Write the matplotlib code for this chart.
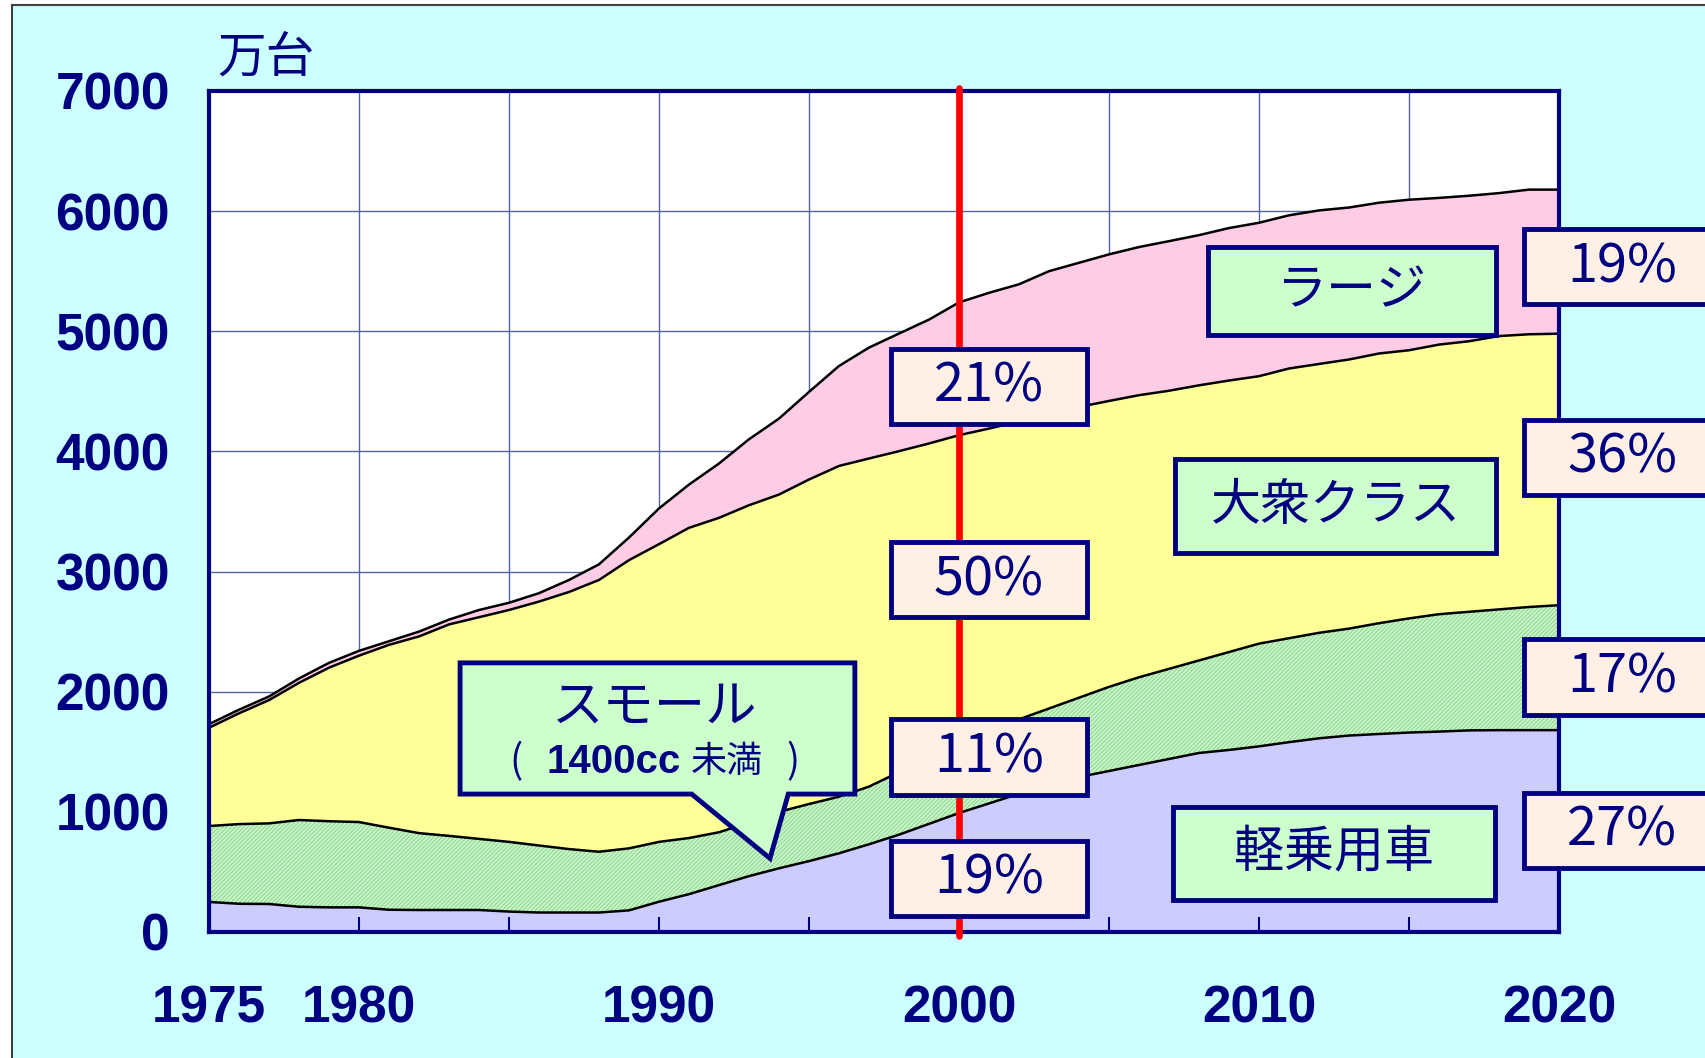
import numpy as np
import matplotlib
matplotlib.use('Agg')
import matplotlib.pyplot as plt
from matplotlib.patches import Rectangle, Polygon

# --- data (万台) ---
years = np.arange(1975, 2021)
kei = [250, 235, 233, 210, 205, 205, 185, 183, 183, 183,
       170, 162, 162, 162, 180, 252, 315, 390, 465, 530,
       590, 655, 730, 810, 900, 990, 1070, 1150, 1220, 1290,
       1340, 1390, 1440, 1490, 1515, 1545, 1580, 1612, 1635, 1648,
       1660, 1668, 1678, 1680, 1680, 1680]
small = [632, 663, 671, 722, 717, 710, 683, 640, 617, 592,
         580, 558, 528, 506, 516, 498, 467, 440, 445, 470,
         475, 471, 480, 520, 540, 570, 600, 620, 640, 660,
         700, 730, 750, 770, 815, 855, 865, 878, 890, 922,
         950, 977, 987, 1005, 1025, 1040]
taishu = [818, 922, 1026, 1142, 1278, 1385, 1522, 1637, 1760, 1845,
          1930, 2030, 2140, 2262, 2399, 2478, 2582, 2617, 2642, 2641,
          2701, 2753, 2731, 2672, 2626, 2575, 2520, 2480, 2440, 2420,
          2380, 2348, 2315, 2290, 2260, 2226, 2245, 2238, 2240, 2245,
          2232, 2244, 2252, 2275, 2270, 2260]
large = [30, 30, 30, 36, 40, 40, 30, 40, 40, 60,
         60, 70, 100, 130, 188, 297, 360, 452, 549, 632,
         729, 832, 923, 979, 1031, 1105, 1130, 1141, 1200, 1200,
         1220, 1233, 1245, 1250, 1269, 1277, 1275, 1278, 1265, 1255,
         1253, 1221, 1211, 1190, 1204, 1199]

class_names = ['軽乗用車', 'スモール', '大衆クラス', 'ラージ']
share_2000 = ['19%', '11%', '50%', '21%']
share_2020 = ['27%', '17%', '36%', '19%']
unit_label = '万台'

y_ticks = [0, 1000, 2000, 3000, 4000, 5000, 6000, 7000]
x_ticks = [1975, 1980, 1985, 1990, 1995, 2000, 2005, 2010, 2015, 2020]
x_labels = ['1975', '1980', '', '1990', '', '2000', '', '2010', '', '2020']

NAVY = '#000080'
fill_colors = ['#ccccff', '#cdf5cd', '#ffff99', '#ffcce5']

plt.rcParams['font.family'] = ['Noto Sans CJK JP', 'DejaVu Sans']
plt.rcParams['hatch.linewidth'] = 0.7

fig = plt.figure(figsize=(17.06, 10.58), dpi=100, facecolor='white')
fig.patches.append(Rectangle((12 / 1706, -0.01), 1.0, 1.01 - 5 / 1058,
                             transform=fig.transFigure, facecolor='#ccffff',
                             edgecolor='#404040', lw=1.5, zorder=-10))

ax = fig.add_axes([0.1225, 0.1191, 0.7913, 0.7949])
ax.set_facecolor('white')
ax.set_xlim(1975, 2020)
ax.set_ylim(0, 7000)

# grid under the filled areas
for x in x_ticks:
    ax.axvline(x, color='#5066a0', lw=1, zorder=0.5)
for y in y_ticks:
    ax.axhline(y, color='#5066a0', lw=1, zorder=0.5)

polys = ax.stackplot(years, kei, small, taishu, large, colors=fill_colors,
                     lw=0, zorder=1)
polys[1].set_hatch('////////')
polys[1].set_edgecolor('#86d886')

tops = np.cumsum(np.vstack([kei, small, taishu, large]), axis=0)
for top in tops:
    ax.plot(years, top, color='black', lw=1.8, zorder=2)
ax.vlines([years[0], years[-1]], 0, [tops[-1][0], tops[-1][-1]],
          color='black', lw=1.8, zorder=2)

ax.axvline(2000, ymin=-0.005, ymax=1.004, color='#ff0000', lw=4.8,
           zorder=3, clip_on=False, solid_capstyle='round')

for s in ax.spines.values():
    s.set_color(NAVY)
    s.set_linewidth(3)
    s.set_zorder(2.6)

ax.set_xticks(x_ticks)
ax.set_xticklabels(x_labels)
ax.set_yticks(y_ticks)
ax.set_yticklabels([str(v) for v in y_ticks])
ax.tick_params(axis='x', direction='in', length=11, width=1.5, color=NAVY,
               pad=38, labelsize=37, labelcolor=NAVY)
ax.tick_params(axis='y', length=0, pad=28, labelsize=37, labelcolor=NAVY)
for lbl in ax.get_xticklabels() + ax.get_yticklabels():
    lbl.set_fontfamily('Liberation Sans')
    lbl.set_fontweight('bold')

ax.text(0.006, 1.039, unit_label, transform=ax.transAxes, fontsize=35,
        color=NAVY, ha='left', va='center')


def box(xc, yc, w, h, face, text, size):
    ax.add_patch(Rectangle((xc - w / 2, yc - h / 2), w, h, facecolor=face,
                           edgecolor=NAVY, lw=3.5, zorder=5, clip_on=False))
    ax.text(xc, yc, text, fontsize=size, color=NAVY, ha='center',
            va='center', zorder=6, clip_on=False)


# share boxes, bottom to top
left_y = [447, 1456, 2933, 4542]
right_y = [845, 2124, 3950, 5538]
for yc, t in zip(left_y, share_2000):
    box(2001.0, yc, 6.55, 628, '#fff0e6', t, 39)
for yc, t in zip(right_y, share_2020):
    box(2022.1, yc, 6.55, 628, '#fff0e6', t, 39)

# class name boxes
box(2012.5, 654, 10.75, 776, '#ccffcc', class_names[0], 36)
box(2012.55, 3545, 10.7, 777, '#ccffcc', class_names[2], 36)
box(2013.1, 5334, 9.6, 734, '#ccffcc', class_names[3], 36)

# callout for small cars
x0, x1, yb, yt = 1983.37, 1996.53, 1148, 2240
callout = Polygon([(x0, yt), (x1, yt), (x1, yb), (1994.31, yb),
                   (1993.7, 613), (1991.09, yb), (x0, yb)], closed=True,
                  facecolor='#ccffcc', edgecolor=NAVY, lw=3.5, zorder=5,
                  joinstyle='miter')
ax.add_patch(callout)
ax.text(1989.85, 1872, class_names[1], fontsize=37, color=NAVY,
        ha='center', va='center', zorder=6)
# second line: "（ 1400cc未満 ）" with mixed weights
note_y = 1417
ax.text(1985.25, note_y, '(', fontsize=28, color=NAVY, ha='center',
        va='center', zorder=6)
ax.text(1988.5, note_y, '1400cc', fontsize=29, color=NAVY, ha='center',
        va='center', zorder=6, family='Liberation Sans', weight='bold')
ax.text(1992.25, note_y, '未満', fontsize=26, color=NAVY, ha='center',
        va='center', zorder=6)
ax.text(1994.45, note_y, ')', fontsize=28, color=NAVY, ha='center',
        va='center', zorder=6)

fig.savefig('out.png', dpi=100, facecolor=fig.get_facecolor())
